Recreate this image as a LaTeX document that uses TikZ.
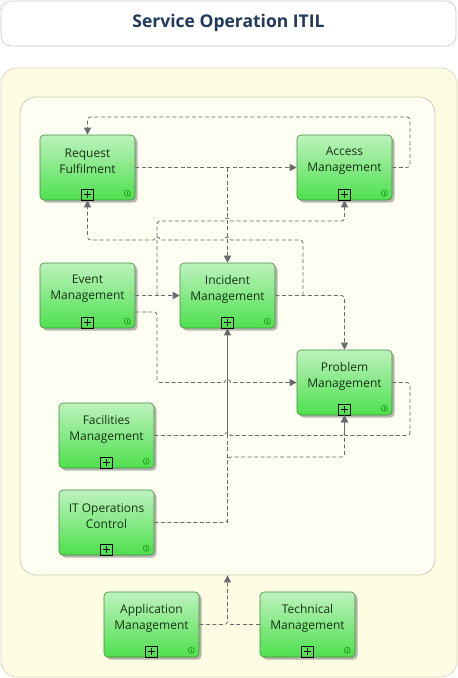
\documentclass[tikz,border=0pt]{standalone}
\usepackage{fontspec}
\setmainfont{Open Sans}
\usetikzlibrary{arrows.meta,shadows,calc}
\definecolor{titletext}{HTML}{1F3A5C}
\definecolor{titledraw}{HTML}{C8C8C8}
\definecolor{nodeborder}{HTML}{3E8E3E}
\definecolor{nodetop}{HTML}{BDF2BD}
\definecolor{nodebot}{HTML}{4EE04E}
\definecolor{textgreen}{HTML}{143314}
\definecolor{conncol}{HTML}{6A6A6A}
\definecolor{outerfill}{HTML}{FEFCE2}
\definecolor{outerdraw}{HTML}{D9D7BF}
\definecolor{innerfill}{HTML}{FFFEF3}
\definecolor{innerdraw}{HTML}{C9C8B5}
\definecolor{icongreen}{HTML}{1C9A1C}
\tikzset{
  proc/.style={rectangle, rounded corners=4pt, minimum width=95pt, minimum height=65pt,
    draw=nodeborder, line width=0.6pt, top color=nodetop, bottom color=nodebot,
    drop shadow={shadow xshift=2.5pt,shadow yshift=-2.5pt,fill=black,opacity=0.28}},
  lbl/.style={align=center, text=textgreen, inner sep=0pt, font=\fontsize{12}{16}\selectfont},
  plusbox/.style={rectangle, draw=black, line width=0.6pt, minimum size=11.5pt, inner sep=0pt},
  infoic/.style={circle, draw=icongreen, line width=0.7pt, minimum size=6pt, inner sep=0pt},
  conn/.style={draw=conncol, line width=0.8pt, dash pattern=on 4pt off 2.5pt, rounded corners=3pt},
  solidconn/.style={draw=conncol, line width=0.9pt},
  tip/.style={-{Triangle[length=7pt,width=7pt]}, conncol},
}
\newcommand\mydeco[1]{%
  \node[plusbox] (#1-plus) at ([yshift=5.75pt]#1.south) {};
  \draw[line width=0.7pt] ([xshift=-3.8pt]#1-plus.center) -- ([xshift=3.8pt]#1-plus.center);
  \draw[line width=0.7pt] ([yshift=-3.8pt]#1-plus.center) -- ([yshift=3.8pt]#1-plus.center);
  \node[infoic] (#1-info) at ([xshift=-8pt,yshift=7pt]#1.south east) {};
  \draw[icongreen, line width=0.7pt] ([yshift=-1.8pt]#1-info.center) -- ([yshift=1.8pt]#1-info.center);
}
\begin{document}
\begin{tikzpicture}[x=1pt,y=-1pt]
\useasboundingbox (0,0) rectangle (458,678);
% title
\node[rectangle, rounded corners=10pt, draw=titledraw, fill=white, line width=0.6pt,
  minimum width=455pt, minimum height=45pt] (title) at (228.5,23.5) {};
\node[font=\fontsize{17.5}{20}\selectfont\bfseries, text=titletext] (title-t) at (228.5,23) {Service Operation ITIL};
% containers
\node[rectangle, rounded corners=16pt, draw=outerdraw, fill=outerfill, line width=0.7pt,
  minimum width=456pt, minimum height=609pt] (outer) at (229,372.5) {};
\node[rectangle, rounded corners=16pt, draw=innerdraw, fill=innerfill, line width=0.7pt,
  minimum width=415pt, minimum height=478pt] (inner) at (227.5,336) {};
% processes
\node[proc] (rf) at (87.5,167.5) {};
\node[proc] (am) at (344.5,167.5) {};
\node[proc] (em) at (87.5,295.5) {};
\node[proc] (im) at (227.5,295.5) {};
\node[proc] (pm) at (344.5,382.5) {};
\node[proc] (fm) at (106.5,435.5) {};
\node[proc] (ioc) at (106.5,522.5) {};
\node[proc] (apm) at (151.5,624.5) {};
\node[proc] (tm) at (307.5,624.5) {};
\node[lbl] (rf-t) at ([yshift=6.5pt]rf.center) {Request\\Fulfilment};
\node[lbl] (am-t) at ([yshift=6.5pt]am.center) {Access\\Management};
\node[lbl] (em-t) at ([yshift=6.5pt]em.center) {Event\\Management};
\node[lbl] (im-t) at ([yshift=6.5pt]im.center) {Incident\\Management};
\node[lbl] (pm-t) at ([yshift=6.5pt]pm.center) {Problem\\Management};
\node[lbl] (fm-t) at ([yshift=6.5pt]fm.center) {Facilities\\Management};
\node[lbl] (ioc-t) at ([yshift=6.5pt]ioc.center) {IT Operations\\Control};
\node[lbl] (apm-t) at ([yshift=6.5pt]apm.center) {Application\\Management};
\node[lbl] (tm-t) at ([yshift=6.5pt]tm.center) {Technical\\Management};
\mydeco{rf}\mydeco{am}\mydeco{em}\mydeco{im}\mydeco{pm}\mydeco{fm}\mydeco{ioc}\mydeco{apm}\mydeco{tm}
% junction coordinates
\coordinate (j1) at (im.north |- rf.east);
\coordinate (j2) at (303,295.5);
\coordinate (j3) at (157,295.5);
\coordinate (j4) at (pm.south |- fm.east);
\coordinate (j5) at (im.south |- ioc.east);
\coordinate (j6) at (im.south |- fm.east);
\coordinate (j7) at (inner.south |- apm.east);
% connectors
\draw[conn,tip] (am.east) -- (410,167.5) -- (410,117) -| (rf.north);
\draw[conn,tip] (rf.east) -- (am.west);
\draw[conn,tip] (j1) -- (im.north);
\draw[conn,tip] (im.east) -| (pm.north);
\draw[conn,tip] (j2) -- (303,240) [sharp corners] -- (230.5,240) .. controls (230.5,236) and (224.5,236) .. (224.5,240)
  -- (160,240) .. controls (160,236) and (154,236) .. (154,240) [rounded corners=3pt] -| (rf.south);
\draw[conn,tip] (em.east) -- (im.west);
\draw[conn,tip] (j3) -- (157,221) [sharp corners] -- (224.5,221) .. controls (224.5,217) and (230.5,217) .. (230.5,221)
  [rounded corners=3pt] -| (am.south);
\draw[conn,tip] ([yshift=-16.5pt]em.east) -- (157,312) -- (157,382.5) [sharp corners] -- (224.5,382.5)
  .. controls (224.5,378.5) and (230.5,378.5) .. (230.5,382.5) -- (pm.west);
\draw[conn,tip] (fm.east) [sharp corners] -- (224.5,435.5) .. controls (224.5,431.5) and (230.5,431.5) .. (230.5,435.5)
  [rounded corners=3pt] -| (pm.south);
\draw[conn] (pm.east) -- (410,382.5) |- (j4);
\draw[conn,tip] (ioc.east) -- (j5) -- (227.5,457) -| (pm.south);
\draw[conn] (j5) -- (j6);
\draw[solidconn,tip] (j6) -- (im.south);
\draw[conn,tip] (apm.east) -- (j7) -- (inner.south);
\draw[conn] (tm.west) -- (j7);
\end{tikzpicture}
\end{document}
